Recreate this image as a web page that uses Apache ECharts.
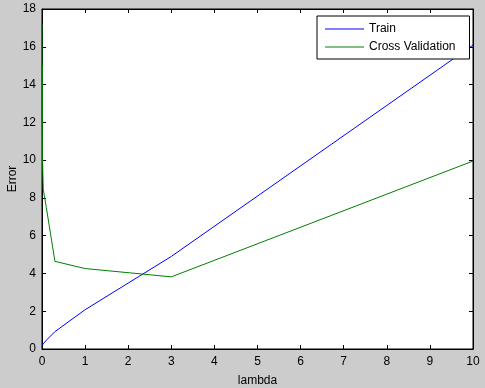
<!DOCTYPE html>
<html><head><meta charset="utf-8">
<script src="https://cdn.jsdelivr.net/npm/echarts@6/dist/echarts.min.js"></script>
<style>html,body{margin:0;padding:0;background:#cccccc;}#c{width:485px;height:388px;}</style>
</head><body><div id="c"></div>
<script>
const lambdas = [0, 0.001, 0.003, 0.01, 0.03, 0.1, 0.3, 1, 3, 10];
const trainErr = [0.17, 0.16, 0.19, 0.22, 0.28, 0.46, 0.92, 2.08, 4.90, 16.09];
const cvErr = [17.2, 12.0, 15.0, 10.2, 8.45, 7.5, 4.64, 4.26, 3.82, 9.95];
const xTicks = [0, 10, 1];
const yTicks = [0, 18, 2];
const seriesNames = ['Train', 'Cross Validation'];

const font = 'Liberation Sans, Arial, sans-serif';
const pairs = (ys) => lambdas.map((x, i) => [x, ys[i]]);
const chart = echarts.init(document.getElementById('c'), null, {renderer: 'canvas'});
const axisBase = {
  type: 'value',
  axisLine: {show: true, onZero: false, lineStyle: {color: '#000', width: 1}},
  axisTick: {show: true, inside: true, length: 4, lineStyle: {color: '#000'}},
  splitLine: {show: false},
  axisLabel: {color: '#000', fontFamily: font, fontSize: 12}
};
chart.setOption({
  backgroundColor: '#cccccc',
  animation: false,
  grid: {left: 42, right: 12, top: 9, bottom: 39, containLabel: false, outerBoundsMode: 'none',
    show: true, backgroundColor: '#ffffff', borderColor: '#000', borderWidth: 1},
  xAxis: [
    Object.assign({}, axisBase, {min: xTicks[0], max: xTicks[1], interval: xTicks[2], position: 'bottom',
      name: 'lambda', nameLocation: 'middle', nameGap: 26, nameMoveOverlap: false, nameTextStyle: {color: '#000', fontFamily: font, fontSize: 12},
      axisLabel: Object.assign({}, axisBase.axisLabel, {margin: 7})}),
    Object.assign({}, axisBase, {min: xTicks[0], max: xTicks[1], interval: xTicks[2], position: 'top', axisLabel: {show: false}})
  ],
  yAxis: [
    Object.assign({}, axisBase, {min: yTicks[0], max: yTicks[1], interval: yTicks[2], position: 'left',
      name: 'Error', nameLocation: 'middle', nameGap: 23, nameMoveOverlap: false, nameTextStyle: {color: '#000', fontFamily: font, fontSize: 12},
      axisLabel: Object.assign({}, axisBase.axisLabel, {margin: 6})}),
    Object.assign({}, axisBase, {min: yTicks[0], max: yTicks[1], interval: yTicks[2], position: 'right', axisLabel: {show: false}})
  ],
  legend: {
    show: true, orient: 'vertical', left: 317, top: 16,
    data: seriesNames,
    icon: 'path://M0,0H39V1H0Z', symbolKeepAspect: false,
    backgroundColor: '#ffffff', borderColor: '#000', borderWidth: 1,
    padding: [7, 14, 6, 8], itemGap: 6, itemWidth: 39, itemHeight: 1,
    textStyle: {color: '#000', fontFamily: font, fontSize: 12}
  },
  series: [
    {name: seriesNames[0], type: 'line', data: pairs(trainErr), showSymbol: false, symbol: 'none',
      lineStyle: {color: '#0000ff', width: 1}, itemStyle: {color: '#0000ff'}, clip: true},
    {name: seriesNames[1], type: 'line', data: pairs(cvErr), showSymbol: false, symbol: 'none',
      lineStyle: {color: '#008000', width: 1}, itemStyle: {color: '#008000'}, clip: true}
  ]
});
</script></body></html>
